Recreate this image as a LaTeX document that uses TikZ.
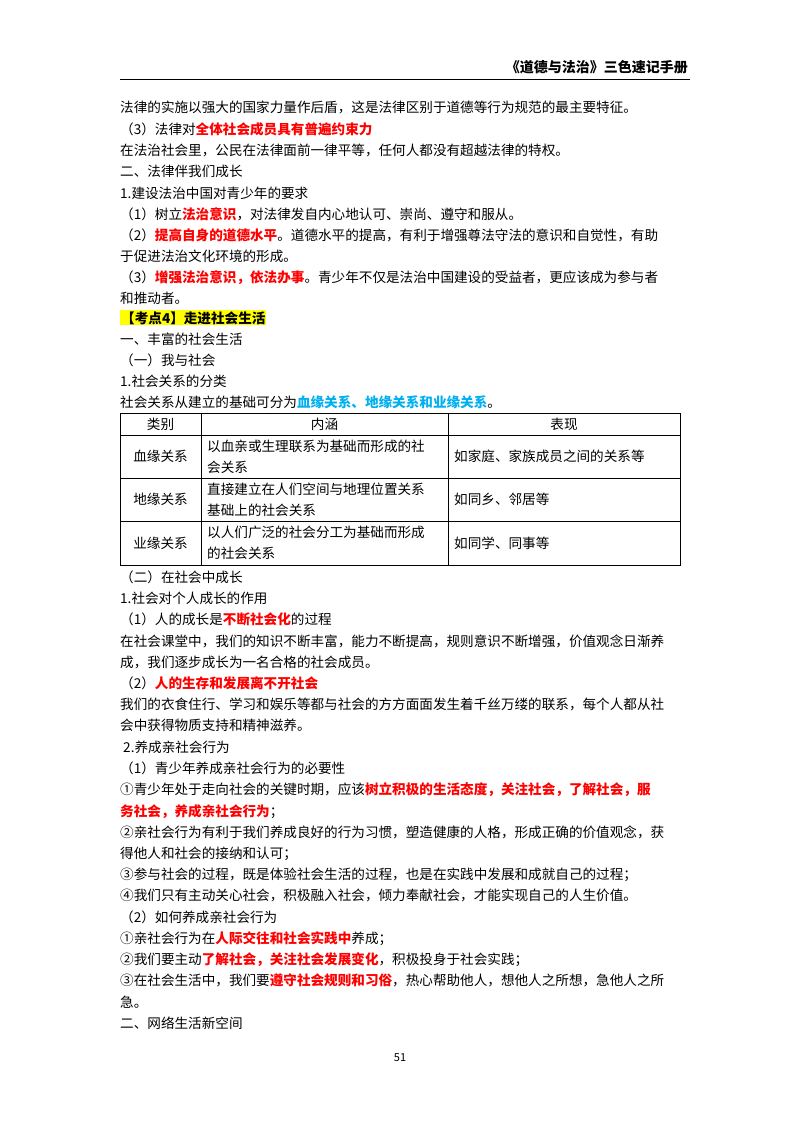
\documentclass[tikz,border=0pt]{standalone}
\usepackage{fontspec}
\setmainfont{Noto Sans CJK SC}
\definecolor{rd}{HTML}{FF0000}
\definecolor{bl}{HTML}{00B0F0}
\definecolor{hl}{HTML}{FFFF00}
\newcommand{\R}[1]{\textcolor{rd}{\bfseries #1}}
\newcommand{\B}[1]{\textcolor{bl}{\bfseries #1}}
\begin{document}
\begin{tikzpicture}[x=1pt,y=-1pt,
  l/.style={anchor=base west,inner sep=0pt,font=\fontsize{13.6}{16}\selectfont},
  c/.style={anchor=center,inner sep=0pt,font=\fontsize{13.6}{21}\selectfont,align=left},
  cc/.style={c,align=center}]
\useasboundingbox[fill=white] (0,0) rectangle (800,1132);
\node[anchor=base east,inner sep=0pt,font=\fontsize{14}{16}\selectfont\bfseries\itshape] (hd) at (688,73) {《道德与法治》三色速记手册};
\draw[line width=0.8pt] (120,79) -- (690,79);
\foreach \y/\t [count=\i] in {
 107/{法律的实施以强大的国家力量作后盾，这是法律区别于道德等行为规范的最主要特征。},
 129/{（3）法律对\R{全体社会成员具有普遍约束力}},
 150/{在法治社会里，公民在法律面前一律平等，任何人都没有超越法律的特权。},
 171/{二、法律伴我们成长},
 193/{1.建设法治中国对青少年的要求},
 214/{（1）树立\R{法治意识}，对法律发自内心地认可、崇尚、遵守和服从。},
 235/{（2）\R{提高自身的道德水平}。道德水平的提高，有利于增强尊法守法的意识和自觉性，有助},
 256/{于促进法治文化环境的形成。},
 277/{（3）\R{增强法治意识，依法办事}。青少年不仅是法治中国建设的受益者，更应该成为参与者},
 298/{和推动者。},
 339/{一、丰富的社会生活},
 360/{（一）我与社会},
 381/{1.社会关系的分类},
 402/{社会关系从建立的基础可分为\B{血缘关系、地缘关系和业缘关系}。},
 577/{（二）在社会中成长},
 598/{1.社会对个人成长的作用},
 619/{（1）人的成长是\R{不断社会化}的过程},
 641/{在社会课堂中，我们的知识不断丰富，能力不断提高，规则意识不断增强，价值观念日渐养},
 662/{成，我们逐步成长为一名合格的社会成员。},
 683/{（2）\R{人的生存和发展离不开社会}},
 704/{我们的衣食住行、学习和娱乐等都与社会的方方面面发生着千丝万缕的联系，每个人都从社},
 725/{会中获得物质支持和精神滋养。},
 747/{\ 2.养成亲社会行为},
 768/{（1）青少年养成亲社会行为的必要性},
 789/{①青少年处于走向社会的关键时期，应该\R{树立积极的生活态度，关注社会，了解社会，服}},
 811/{\R{务社会，养成亲社会行为}；},
 832/{②亲社会行为有利于我们养成良好的行为习惯，塑造健康的人格，形成正确的价值观念，获},
 853/{得他人和社会的接纳和认可；},
 874/{③参与社会的过程，既是体验社会生活的过程，也是在实践中发展和成就自己的过程；},
 895/{④我们只有主动关心社会，积极融入社会，倾力奉献社会，才能实现自己的人生价值。},
 917/{（2）如何养成亲社会行为},
 938/{①亲社会行为在\R{人际交往和社会实践中}养成；},
 959/{②我们要主动\R{了解社会，关注社会发展变化}，积极投身于社会实践；},
 980/{③在社会生活中，我们要\R{遵守社会规则和习俗}，热心帮助他人，想他人之所想，急他人之所},
 1002/{急。},
 1023/{二、网络生活新空间}}
 {\node[l] (t\i) at (120,\y+5) {\t};}
\node[l,fill=hl,inner sep=1pt,font=\fontsize{13.6}{16}\selectfont\bfseries] (kd) at (120,323) {【考点4】走进社会生活};
% table
\draw[line width=0.8pt] (120,413) rectangle (680,565);
\draw[line width=0.6pt] (120,435) -- (680,435) (120,478) -- (680,478) (120,521) -- (680,521)
  (201,413) -- (201,565) (448,413) -- (448,565);
\node[cc] (h1) at (160.5,424) {类别};
\node[cc] (h2) at (324.5,424) {内涵};
\node[cc] (h3) at (564,424) {表现};
\node[cc] (a1) at (160.5,456.5) {血缘关系};
\node[cc] (a2) at (160.5,499.5) {地缘关系};
\node[cc] (a3) at (160.5,543) {业缘关系};
\node[c,anchor=west] (b1) at (207,456.5) {以血亲或生理联系为基础而形成的社\\会关系};
\node[c,anchor=west] (b2) at (207,499.5) {直接建立在人们空间与地理位置关系\\基础上的社会关系};
\node[c,anchor=west] (b3) at (207,543) {以人们广泛的社会分工为基础而形成\\的社会关系};
\node[c,anchor=west] (c1) at (454,456.5) {如家庭、家族成员之间的关系等};
\node[c,anchor=west] (c2) at (454,499.5) {如同乡、邻居等};
\node[c,anchor=west] (c3) at (454,543) {如同学、同事等};
\node[inner sep=0pt,font=\fontsize{11}{13}\selectfont] (pg) at (400,1058) {51};
\end{tikzpicture}
\end{document}
